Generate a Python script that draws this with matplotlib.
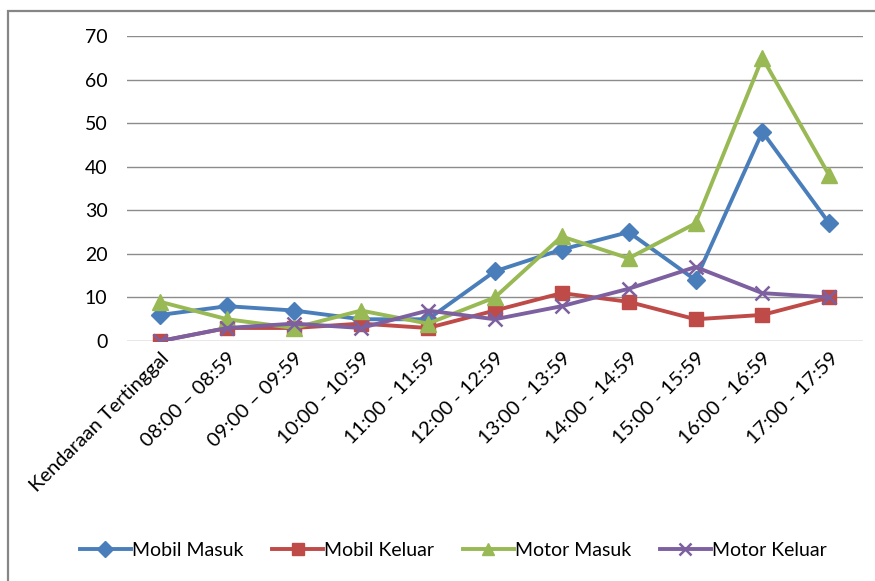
import matplotlib.pyplot as plt
from matplotlib.patches import Rectangle

categories = ["Kendaraan Tertinggal", "08:00 \u2013 08:59", "09:00 \u2013 09:59", "10:00 - 10:59",
              "11:00 - 11:59", "12:00 - 12:59", "13:00 - 13:59", "14:00 - 14:59",
              "15:00 - 15:59", "16:00 - 16:59", "17:00 - 17:59"]
mobil_masuk = [6, 8, 7, 5, 5, 16, 21, 25, 14, 48, 27]
mobil_keluar = [0, 3, 3, 4, 3, 7, 11, 9, 5, 6, 10]
motor_masuk = [9, 5, 3, 7, 4, 10, 24, 19, 27, 65, 38]
motor_keluar = [0, 3, 4, 3, 7, 5, 8, 12, 17, 11, 10]

plt.rcParams['font.family'] = ['Lato', 'DejaVu Sans']

fig = plt.figure(figsize=(8.75, 5.81), dpi=100)
ax = fig.add_axes([0.145, 0.413, 0.841, 0.525])

x = range(len(categories))
ax.plot(x, mobil_masuk, color="#4A7EBB", lw=2.8, marker="D", ms=9, label="Mobil Masuk")
ax.plot(x, mobil_keluar, color="#BE4B48", lw=2.8, marker="s", ms=10, label="Mobil Keluar")
ax.plot(x, motor_masuk, color="#98B954", lw=2.8, marker="^", ms=11, label="Motor Masuk")
ax.plot(x, motor_keluar, color="#7D60A0", lw=2.8, marker="x", ms=10, mew=1.8, label="Motor Keluar")

ax.set_xlim(-0.5, len(categories) - 0.5)
ax.set_ylim(0, 70)
ax.set_yticks(range(0, 71, 10))
ax.grid(axis="y", color="#8C8C8C", lw=1)
ax.set_axisbelow(True)
for s in ax.spines.values():
    s.set_visible(False)
ax.tick_params(axis="y", length=0, labelsize=14, colors="black", pad=14)
ax.tick_params(axis="x", length=0, labelsize=14.5, colors="black", pad=6)
ax.set_xticks(list(x))
ax.set_xticklabels(categories, rotation=45, ha="right", rotation_mode="anchor")

ax.legend(loc="center", bbox_to_anchor=(0.518, 0.052), bbox_transform=fig.transFigure,
          ncol=4, frameon=False, fontsize=14, handlelength=2.6, columnspacing=1.5,
          handletextpad=0.05, markerscale=0.85)

fig.patches.append(Rectangle((8 / 875, -0.1), 1.1, 1.1 - 11 / 581, transform=fig.transFigure,
                             fill=False, edgecolor="#868686", lw=1.6))

fig.savefig("out.png", dpi=100)
